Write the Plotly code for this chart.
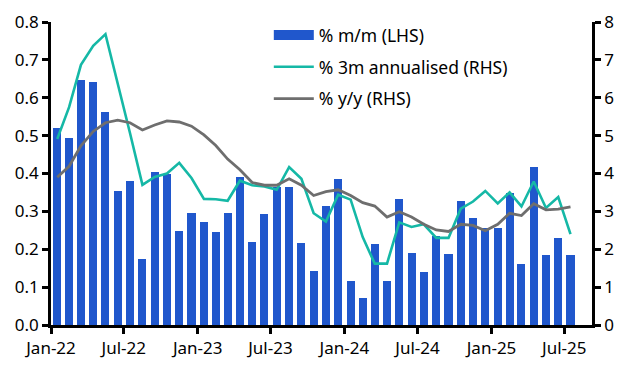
import plotly.graph_objects as go
import pandas as pd

months = pd.date_range("2022-01-01", "2025-07-01", freq="MS")

mm = [0.521, 0.493, 0.648, 0.642, 0.563, 0.354, 0.380, 0.174, 0.403, 0.400,
      0.248, 0.297, 0.271, 0.246, 0.295, 0.392, 0.220, 0.292, 0.364, 0.364,
      0.217, 0.143, 0.313, 0.385, 0.117, 0.071, 0.215, 0.117, 0.333, 0.189,
      0.140, 0.235, 0.187, 0.328, 0.282, 0.256, 0.256, 0.349, 0.161, 0.416,
      0.184, 0.230, 0.184]

ann3m = [4.91, 5.75, 6.87, 7.37, 7.68, 6.40, 5.07, 3.70, 3.91, 4.00,
         4.28, 3.88, 3.33, 3.32, 3.28, 3.81, 3.69, 3.66, 3.57, 4.17,
         3.86, 2.95, 2.73, 3.44, 3.31, 2.32, 1.62, 1.62, 2.71, 2.59,
         2.66, 2.30, 2.30, 3.07, 3.26, 3.54, 3.21, 3.50, 3.13, 3.79,
         3.09, 3.38, 2.40]

yy = [3.90, 4.19, 4.73, 5.11, 5.34, 5.41, 5.34, 5.15, 5.28, 5.39,
      5.36, 5.25, 5.02, 4.74, 4.38, 4.10, 3.76, 3.69, 3.69, 3.86,
      3.69, 3.42, 3.52, 3.57, 3.42, 3.23, 3.14, 2.85, 2.99, 2.85,
      2.66, 2.51, 2.47, 2.66, 2.63, 2.49, 2.66, 2.95, 2.89, 3.20,
      3.04, 3.06, 3.12]

tick_vals = pd.date_range("2022-01-01", "2025-07-01", freq="6MS")
tick_text = ["Jan-22", "Jul-22", "Jan-23", "Jul-23", "Jan-24", "Jul-24", "Jan-25", "Jul-25"]

BLUE = "#2057CC"
TEAL = "#15B8A6"
GREY = "#6E6E6E"
FONT = "Noto Sans"
FS = 17

fig = go.Figure()
fig.add_trace(go.Bar(
    x=months, y=mm, name="% m/m (LHS)", marker_color=BLUE, marker_line_width=0,
    xperiod="M1", xperiodalignment="middle", width=0.66 * 30.4 * 86400000,
    showlegend=False, yaxis="y"))
# legend key for the bars (wide bar swatch as in the original)
fig.add_trace(go.Scatter(
    x=[None], y=[None], name="% m/m (LHS)", mode="lines",
    line=dict(color=BLUE, width=10), legendgroup="a", yaxis="y"))
fig.add_trace(go.Scatter(
    x=months, y=ann3m, name="% 3m annualised (RHS)", mode="lines",
    line=dict(color=TEAL, width=2.6), xperiod="M1", xperiodalignment="middle",
    legendgroup="b", yaxis="y2"))
fig.add_trace(go.Scatter(
    x=months, y=yy, name="% y/y (RHS)", mode="lines",
    line=dict(color=GREY, width=2.8), xperiod="M1", xperiodalignment="middle",
    legendgroup="c", yaxis="y2"))

axis_common = dict(showgrid=False, zeroline=False, showline=True, linecolor="black",
                   linewidth=2.5, ticks="outside", ticklen=6, tickwidth=2.5,
                   tickcolor="black", automargin=False, ticklabeloverflow="allow",
                   tickfont=dict(family=FONT, size=FS, color="black"))

fig.update_layout(
    width=630, height=370,
    margin=dict(l=43, r=46, t=9, b=53),
    plot_bgcolor="white", paper_bgcolor="white",
    bargap=0,
    font=dict(family=FONT, size=FS, color="black"),
    xaxis=dict(type="date", range=["2022-01-01", "2025-09-08"],
               tickvals=tick_vals, ticktext=tick_text, **axis_common),
    yaxis=dict(range=[0, 0.8], dtick=0.1, tickformat=".1f", **axis_common),
    yaxis2=dict(range=[0, 8], dtick=1, overlaying="y", side="right", **axis_common),
    legend=dict(x=0.4026, y=1.016, xanchor="left", yanchor="top", bgcolor="rgba(0,0,0,0)",
                tracegroupgap=6, itemwidth=40,
                font=dict(family=FONT, size=17.5, color="black")),
    showlegend=True,
)

fig.write_html("out.html")
